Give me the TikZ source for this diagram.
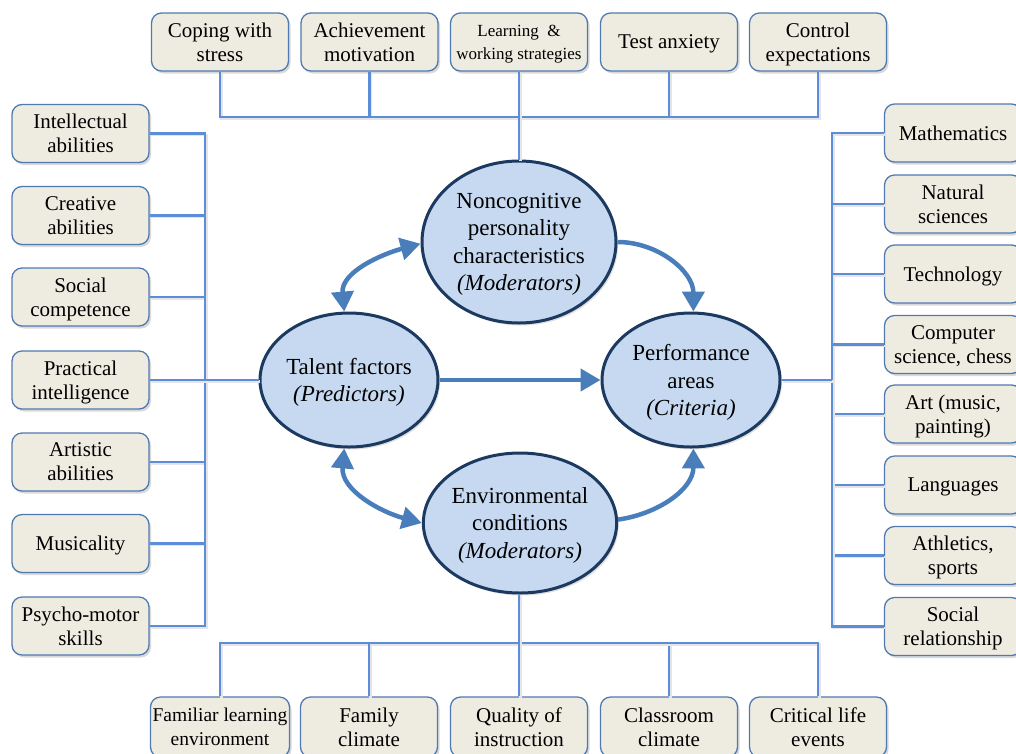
\documentclass[tikz,border=0pt]{standalone}
\usepackage{fontspec}
\setmainfont{Liberation Serif}
\usetikzlibrary{shapes.geometric,arrows.meta,shadows}
\definecolor{boxfill}{HTML}{EEECE1}
\definecolor{boxline}{HTML}{5079B0}
\definecolor{conn}{HTML}{5B8DD9}
\definecolor{ellfill}{HTML}{C6D9F1}
\definecolor{elline}{HTML}{1C3A60}
\definecolor{arr}{HTML}{4A7EBB}
\begin{document}
\begin{tikzpicture}[x=1pt,y=1pt,
 box/.style={draw=boxline, line width=1.3pt, fill=boxfill, rounded corners=10pt,
   minimum width=137pt, minimum height=58pt, align=center, inner sep=0pt,
   text depth=0pt, font=\fontsize{21}{24}\selectfont,
   drop shadow={shadow xshift=2pt,shadow yshift=-2.5pt,opacity=0.3}},
 ell/.style={ellipse, draw=elline, line width=3pt, fill=ellfill, inner sep=0pt,
   align=center, text depth=-2pt, font=\fontsize{23}{27.5}\selectfont,
   drop shadow={shadow xshift=2pt,shadow yshift=-2.5pt,opacity=0.25}},
 link/.style={draw=conn, line width=2.5pt,
   preaction={draw=black!10, line width=2.5pt, transform canvas={shift={(1.5pt,-1.5pt)}}}},
 flow/.style={draw=arr, line width=4.5pt, -{Triangle[length=20pt,width=22pt]}},
 both/.style={draw=arr, line width=4.5pt, {Triangle[length=20pt,width=22pt]}-{Triangle[length=20pt,width=22pt]}}
]
\useasboundingbox (0,0) rectangle (1016,-753);

% bus coordinates
\coordinate (tb) at (519,-117);
\coordinate (lb) at (205,-380);
\coordinate (rb) at (832,-380);
\coordinate (bb) at (519,-643);

% top boxes
\node[box] (t1) at (220,-42) {Coping with\\stress};
\node[box] (t2) at (369.5,-42) {Achievement\\motivation};
\node[box, font=\fontsize{17}{23}\selectfont] (t3) at (519,-42) {Learning\ \ \&\\working strategies};
\node[box] (t4) at (669,-42) {Test anxiety};
\node[box] (t5) at (818,-42) {Control\\expectations};

% left boxes
\node[box] (l1) at (80.5,-133.5) {Intellectual\\abilities};
\node[box] (l2) at (80.5,-215.5) {Creative\\abilities};
\node[box] (l3) at (80.5,-297) {Social\\competence};
\node[box] (l4) at (80.5,-380) {Practical\\intelligence};
\node[box] (l5) at (80.5,-462) {Artistic\\abilities};
\node[box] (l6) at (80.5,-543.5) {Musicality};
\node[box] (l7) at (80.5,-626) {Psycho-motor\\skills};

% right boxes
\node[box] (r1) at (953,-133) {Mathematics};
\node[box] (r2) at (953,-204) {Natural\\sciences};
\node[box] (r3) at (953,-274) {Technology};
\node[box] (r4) at (953,-344.5) {Computer\\science, chess};
\node[box] (r5) at (953,-414) {Art (music,\\painting)};
\node[box] (r6) at (953,-485) {Languages};
\node[box] (r7) at (953,-555.5) {Athletics,\\sports};
\node[box] (r8) at (953,-626.5) {Social\\relationship};

% bottom boxes
\node[box, minimum width=139pt, minimum height=60pt, font=\fontsize{19.5}{24}\selectfont] (b1) at (220,-727) {Familiar learning\\environment};
\node[box, minimum height=60pt] (b2) at (369,-727) {Family\\climate};
\node[box, minimum height=60pt] (b3) at (519,-727) {Quality of\\instruction};
\node[box, minimum height=60pt] (b4) at (669,-727) {Classroom\\climate};
\node[box, minimum height=60pt] (b5) at (818,-727) {Critical life\\events};

% central ellipses
\node[ell, text depth=-5pt, minimum width=194pt, minimum height=162pt] (nc) at (519,-242)
  {Noncognitive\\personality\\characteristics\\\textit{(Moderators)}};
\node[ell, minimum width=178pt, minimum height=134pt] (tf) at (349,-380)
  {Talent factors\\\textit{(Predictors)}};
\node[ell, minimum width=178pt, minimum height=134pt] (pf) at (691,-380)
  {Performance\\areas\\\textit{(Criteria)}};
\node[ell, minimum width=180pt, minimum height=140pt] (env) at (520,-523)
  {Environmental\\conditions\\\textit{(Moderators)}};

% top connectors
\draw[link] (t1.south) |- (tb);
\draw[link] (t2.south) |- (tb);
\draw[link] (t4.south) |- (tb);
\draw[link] (t5.south) |- (tb);
\draw[link] (t3.south) -- (nc.north);

% left connectors
\foreach \n in {l1,l2,l3,l5,l6,l7} \draw[link] (\n.east) -| (lb);
\draw[link] (l4.east) -- (tf.west);

% right connectors
\foreach \n in {r1,r2,r3,r4,r5,r6,r7,r8} \draw[link] (\n.west) -| (rb);
\draw[link] (pf.east) -- (rb);

% bottom connectors
\draw[link] (b1.north) |- (bb);
\draw[link] (b2.north) |- (bb);
\draw[link] (b4.north) |- (bb);
\draw[link] (b5.north) |- (bb);
\draw[link] (b3.north) -- (b3.north |- env.south);

% arrows
\draw[both] (tf.94) to[out=95,in=195] (nc.181);
\draw[flow] (nc.0) to[out=0,in=90] (pf.88);
\draw[flow] (tf.east) -- (pf.west);
\draw[both] (tf.-94) to[out=-95,in=165] (env.180);
\draw[flow] (env.2) to[out=8,in=-90] (pf.-88);
\end{tikzpicture}
\end{document}
